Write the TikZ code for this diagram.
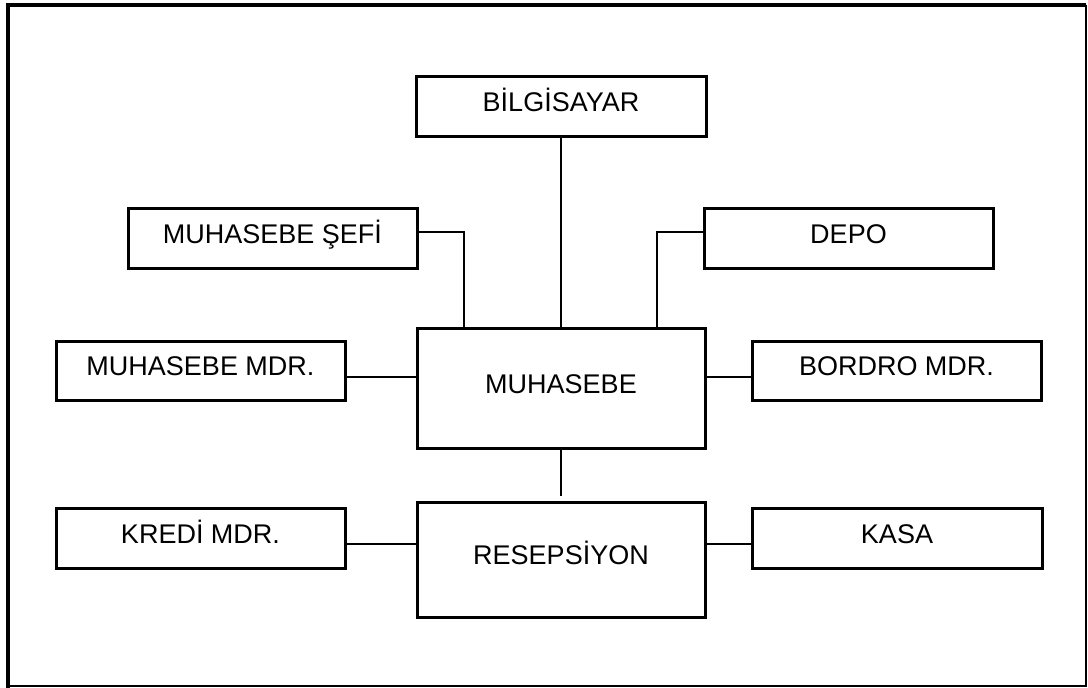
\documentclass[tikz,border=0pt]{standalone}
\usepackage{fontspec}
\setmainfont{Liberation Sans}
\begin{document}
\begin{tikzpicture}[x=1pt,y=-1pt,
  box/.style={draw=black,line width=3pt,inner sep=0pt,minimum height=60pt,
    minimum width=289pt,font=\fontsize{27}{31}\selectfont,
    text height=19.3pt,text depth=9pt,align=center},
  link/.style={draw=black,line width=2pt}]
\useasboundingbox (0,0) rectangle (1088,688);
\draw[line width=4pt] (8,688) -- (8,4.5) -- (1086,4.5);
\draw[line width=1.5pt] (1086,4.5) -- (1086,686) -- (8,686);

\node[box,minimum width=290pt] (bil) at (561,106) {BİLGİSAYAR};
\node[box] (sefi) at (272.5,238) {MUHASEBE ŞEFİ};
\node[box] (depo) at (848.5,238) {DEPO};
\node[box,minimum width=288pt,minimum height=120pt] (muh) at (561,388) {MUHASEBE};
\node[box,minimum height=59pt] (mdr) at (200.5,370.5) {MUHASEBE MDR.};
\node[box,minimum height=59pt] (bordro) at (896.5,370.5) {BORDRO MDR.};
\node[box,minimum width=288pt,minimum height=115pt] (res) at (561,559.5) {RESEPSİYON};
\node[box] (kredi) at (200.5,538) {KREDİ MDR.};
\node[box,minimum width=290pt] (kasa) at (897,538) {KASA};

\coordinate (m1) at ([yshift=-6.5pt]mdr.east);
\coordinate (k1) at ([yshift=-6pt]kredi.east);

\draw[link] (bil.south) -- (muh.north);
\draw[link] ([yshift=6pt]sefi.east) -| ([xshift=-97pt]muh.north);
\draw[link] ([yshift=6pt]depo.west) -| ([xshift=96pt]muh.north);
\draw[link] (m1) -- (m1 -| muh.west);
\draw[link] (m1 -| muh.east) -- (m1 -| bordro.west);
\draw[link] (muh.south) -- ([yshift=5pt]res.north);
\draw[link] (k1) -- (k1 -| res.west);
\draw[link] (k1 -| res.east) -- (k1 -| kasa.west);
\end{tikzpicture}
\end{document}
